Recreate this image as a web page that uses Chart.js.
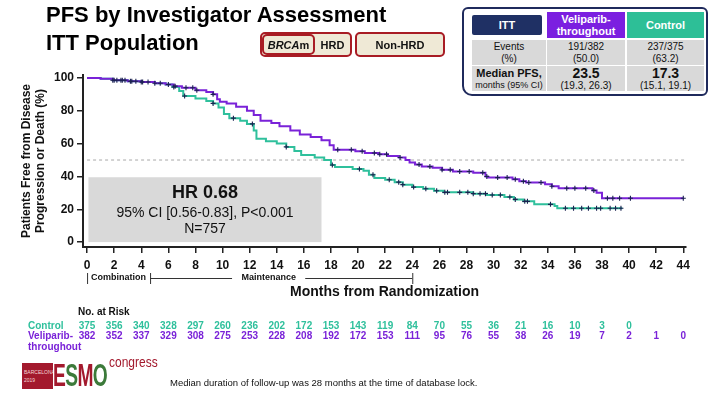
<!DOCTYPE html>
<html>
<head>
<meta charset="utf-8">
<script src="https://cdn.jsdelivr.net/npm/chart.js@4.4.0/dist/chart.umd.min.js"></script>
<style>
  html, body { margin: 0; padding: 0; background: #fff; }
  body { width: 716px; height: 394px; position: relative; overflow: hidden;
         font-family: "Liberation Sans", Arial, sans-serif; color: #000; }
  .abs { position: absolute; box-sizing: border-box; }
  .cell { position: absolute; box-sizing: border-box; display: flex; flex-direction: column;
          align-items: center; justify-content: center; text-align: center; }
  #title { left: 46px; top: 1px; font-weight: bold; font-size: 22px; line-height: 28px; white-space: nowrap; }
  .tag { border: 2px solid #a81c24; border-radius: 5px; background: #efe9d6; }
  .tagtxt { font-weight: bold; font-size: 11px; color: #111; }
  #tbl { left: 462px; top: 7px; width: 246px; height: 89px; border: 2.5px solid #1f2a5c;
         border-radius: 6px 6px 6px 10px; background: #fff; }
  .g { background: #d9d9d9; color: #111; }
  #chart { position: absolute; left: 0; top: 0; }
  #logo .bx { left: 22px; top: 363px; width: 31px; height: 26px; background: #a3192d; color: #f3d7d7;
              font-family: "Liberation Sans Narrow", "Liberation Sans", Arial; font-size: 5px; line-height: 8px;
              padding: 5px 0 0 2px; overflow: hidden; white-space: nowrap; }
</style>
</head>
<body>
<canvas id="chart" width="716" height="394"></canvas>

<div id="title" class="abs">PFS by Investigator Assessment<br>ITT Population</div>

<div class="abs tag" style="left:260px;top:32px;width:92px;height:25px;"></div>
<div class="cell tag" style="left:262px;top:34px;width:53px;height:21px;"><span class="tagtxt"><i>BRCA</i>m</span></div>
<div class="cell" style="left:315px;top:34px;width:35px;height:21px;"><span class="tagtxt">HRD</span></div>
<div class="cell tag" style="left:355px;top:32px;width:90px;height:25px;"><span class="tagtxt">Non-HRD</span></div>

<div id="tbl" class="abs"></div>
<div class="cell" style="left:472px;top:15px;width:70px;height:20px;background:#1f3064;color:#fff;font-weight:bold;font-size:11px;border-radius:2px;">ITT</div>
<div class="cell" style="left:547px;top:12px;width:78px;height:26px;background:#7b1fe0;color:#fff;font-weight:bold;font-size:11px;line-height:12px;">Veliparib-<br>throughout</div>
<div class="cell" style="left:627px;top:12px;width:77px;height:26px;background:#2dbf97;color:#fff;font-weight:bold;font-size:11px;">Control</div>

<div class="cell g" style="left:472px;top:40px;width:74px;height:25px;font-size:10px;line-height:12px;">Events<br>(%)</div>
<div class="cell g" style="left:547px;top:40px;width:78px;height:25px;font-size:10px;line-height:12px;">191/382<br>(50.0)</div>
<div class="cell g" style="left:627px;top:40px;width:77px;height:25px;font-size:10px;line-height:12px;">237/375<br>(63.2)</div>

<div class="cell g" style="left:472px;top:66px;width:74px;height:25px;"><b style="font-size:11px;line-height:13px;">Median PFS,</b><span style="font-size:9px;line-height:11px;">months (95% CI)</span></div>
<div class="cell g" style="left:547px;top:66px;width:78px;height:25px;"><b style="font-size:14px;line-height:14px;">23.5</b><span style="font-size:10px;line-height:11px;">(19.3, 26.3)</span></div>
<div class="cell g" style="left:627px;top:66px;width:77px;height:25px;"><b style="font-size:14px;line-height:14px;">17.3</b><span style="font-size:10px;line-height:11px;">(15.1, 19.1)</span></div>

<div id="logo">
  <div class="abs bx">BARCELONA<br>2019</div>
  <div class="abs" style="left:53px;top:360px;height:30px;font-family:'Liberation Sans Narrow','Liberation Sans',Arial;font-weight:bold;font-size:31px;line-height:31px;letter-spacing:-1px;transform:scaleX(0.62);transform-origin:left;">
    <span style="color:#a3192d;">E</span><span style="color:#3c7a3a;">S</span><span style="color:#a3192d;">M</span><span style="color:#3c7a3a;">O</span>
  </div>
  <div class="abs" style="left:109px;top:354px;font-family:'Liberation Sans Narrow','Liberation Sans',Arial;font-size:15px;line-height:15px;color:#a3192d;transform:scaleX(0.8);transform-origin:left;">congress</div>
</div>
<div class="abs" style="left:170px;top:377px;font-size:9.5px;color:#111;white-space:nowrap;">Median duration of follow-up was 28 months at the time of database lock.</div>

<script>
// PFS Kaplan-Meier, ITT population — veliparib-throughout vs control.
var FONT = '"Liberation Sans", Arial, sans-serif';
var PURPLE = '#7a22d8';
var TEAL = '#2fc09c';
var MARK = '#1b2250';

var xTicks = [0, 2, 4, 6, 8, 10, 12, 14, 16, 18, 20, 22, 24, 26, 28, 30, 32, 34, 36, 38, 40, 42, 44];
var yTicks = [0, 20, 40, 60, 80, 100];

// KM step points (months, % free from progression)
var velT = [0, 1.0, 1.9, 3.0, 4.0, 5.0, 5.8, 6.4, 7.0, 8.0, 8.8, 9.3, 9.6, 9.8, 10.3, 11.0, 11.8, 12.3, 12.8, 13.6, 14.2, 15.0, 15.7, 16.5, 17.3, 17.9, 18.2, 19.8, 20.5, 21.5, 22.2, 23.0, 23.5, 23.8, 24.2, 24.7, 25.5, 26.2, 27.0, 28.5, 29.4, 29.6, 31.4, 31.9, 32.4, 33.8, 34.3, 34.8, 37.3, 37.6, 38.0, 44.0];
var velS = [100, 99.5, 98.6, 98.0, 97.5, 96.8, 96.0, 95.0, 94.0, 92.5, 91.5, 90.0, 87.0, 85.5, 84.5, 82.5, 80.0, 77.5, 74.0, 72.5, 70.5, 68.0, 65.5, 64.0, 62.0, 59.0, 56.3, 55.3, 54.3, 53.5, 52.5, 51.5, 50.0, 48.5, 47.2, 46.0, 45.3, 44.0, 43.0, 42.3, 40.0, 39.3, 38.3, 37.0, 36.3, 35.2, 34.0, 32.8, 31.5, 30.0, 26.7, 26.7];

var ctlT = [0, 1.0, 1.9, 3.0, 4.0, 5.0, 5.8, 6.3, 6.8, 7.1, 8.0, 8.8, 9.3, 9.7, 10.1, 10.5, 11.3, 11.8, 12.3, 12.5, 13.2, 14.0, 14.7, 15.3, 15.8, 16.8, 17.5, 18.0, 18.3, 19.6, 20.4, 20.8, 21.2, 22.0, 22.7, 23.3, 24.0, 24.8, 25.6, 26.3, 28.5, 29.5, 30.8, 31.5, 32.2, 33.0, 34.5, 34.7, 39.5];
var ctlS = [100, 99.5, 98.6, 98.0, 97.5, 96.8, 96.0, 94.5, 92.0, 89.0, 87.5, 86.0, 84.5, 82.0, 78.0, 75.5, 74.0, 72.0, 68.0, 63.0, 61.5, 60.0, 58.0, 55.5, 53.0, 51.5, 50.0, 47.0, 45.8, 44.5, 43.5, 41.0, 39.0, 38.0, 36.5, 35.0, 33.5, 32.5, 31.3, 30.3, 29.5, 28.7, 27.5, 26.0, 24.8, 23.0, 22.0, 20.6, 20.6];

// censoring times (months)
var velCens = [1.9, 2.2, 2.5, 2.8, 3.2, 3.6, 4.1, 4.5, 5.0, 6.0, 6.5, 7.3, 7.8, 8.1, 9.3, 18.5, 19.5, 20.3, 21.2, 21.6, 22.1, 23.1, 24.5, 25.3, 26.2, 26.8, 27.5, 28.2, 29.2, 29.5, 30.3, 31.0, 31.6, 32.2, 32.6, 33.5, 34.3, 35.4, 36.0, 36.8, 37.4, 38.4, 38.8, 39.3, 40.1, 44.0];
var ctlCens = [2.0, 2.6, 3.3, 4.0, 5.4, 6.4, 7.2, 9.3, 10.8, 12.2, 14.7, 18.1, 20.1, 21.1, 22.3, 23.0, 23.3, 24.1, 25.0, 25.8, 26.4, 26.6, 27.5, 28.1, 28.5, 29.0, 29.4, 29.9, 30.5, 31.2, 31.6, 32.3, 32.5, 34.2, 35.3, 35.9, 36.5, 37.0, 37.6, 37.9, 38.6, 39.0, 39.4];

// number at risk
var riskT = [0, 2, 4, 6, 8, 10, 12, 14, 16, 18, 20, 22, 24, 26, 28, 30, 32, 34, 36, 38, 40, 42, 44];
var ctlRisk = [375, 356, 340, 328, 297, 260, 236, 202, 172, 153, 143, 119, 84, 70, 55, 36, 21, 16, 10, 3, 0];
var velRisk = [382, 352, 337, 329, 308, 275, 253, 228, 208, 192, 172, 153, 111, 95, 76, 55, 38, 26, 19, 7, 2, 1, 0];

var medianLine = 50;
var hrBox = { x0: 0.1, x1: 17.3, y0: 0, y1: 39.5 };

function pts(t, s) { return t.map(function (v, i) { return { x: v, y: s[i] }; }); }
function stepAt(t, s, at) {
  var v = s[0];
  for (var i = 0; i < t.length; i++) { if (t[i] <= at) v = s[i]; }
  return v;
}
function marks(c, t, s) { return c.map(function (v) { return { x: v, y: stepAt(t, s, v) }; }); }

var extras = {
  id: 'extras',
  beforeDatasetsDraw: function (chart) {
    var x = chart.scales.x, y = chart.scales.y, ctx = chart.ctx;
    var l = x.getPixelForValue(hrBox.x0), r = x.getPixelForValue(hrBox.x1);
    var t = y.getPixelForValue(hrBox.y1), b = y.getPixelForValue(hrBox.y0);
    ctx.save();
    ctx.fillStyle = '#d9d9d9';
    ctx.fillRect(l, t, r - l, b - t);
    var cx = (l + r) / 2;
    ctx.fillStyle = '#111';
    ctx.textAlign = 'center';
    ctx.textBaseline = 'middle';
    ctx.font = 'bold 18px ' + FONT;
    ctx.fillText('HR 0.68', cx, t + 16);
    ctx.font = '14px ' + FONT;
    ctx.fillText('95% CI [0.56-0.83], P<0.001', cx, t + 36);
    ctx.fillText('N=757', cx, t + 52);
    ctx.restore();
  },
  afterDraw: function (chart) {
    var x = chart.scales.x, ctx = chart.ctx;
    ctx.save();
    // treatment phase bar
    var py = 278;
    var p0 = x.getPixelForValue(0), p1 = x.getPixelForValue(4.65), p2 = x.getPixelForValue(24);
    ctx.strokeStyle = '#333';
    ctx.lineWidth = 1;
    ctx.beginPath();
    [p0, p1, p2].forEach(function (p) { ctx.moveTo(p + 0.5, py - 5); ctx.lineTo(p + 0.5, py + 6); });
    ctx.moveTo(p1, py + 0.5); ctx.lineTo(x.getPixelForValue(10.7), py + 0.5);
    ctx.moveTo(x.getPixelForValue(16.1), py + 0.5); ctx.lineTo(p2, py + 0.5);
    ctx.stroke();
    ctx.fillStyle = '#111';
    ctx.font = 'bold 9px ' + FONT;
    ctx.textAlign = 'center';
    ctx.textBaseline = 'middle';
    ctx.fillText('Combination', (p0 + p1) / 2, py);
    ctx.fillText('Maintenance', x.getPixelForValue(13.4), py);

    // number at risk table
    ctx.font = 'bold 10px ' + FONT;
    ctx.textAlign = 'left';
    ctx.fillText('No. at Risk', 78, 312);
    ctx.fillStyle = TEAL;
    ctx.fillText('Control', 28, 326);
    ctx.fillStyle = PURPLE;
    ctx.fillText('Veliparib-', 28, 336);
    ctx.fillText('throughout', 28, 347);
    ctx.textAlign = 'center';
    ctx.fillStyle = TEAL;
    ctlRisk.forEach(function (n, i) { ctx.fillText(String(n), x.getPixelForValue(riskT[i]), 326); });
    ctx.fillStyle = PURPLE;
    velRisk.forEach(function (n, i) { ctx.fillText(String(n), x.getPixelForValue(riskT[i]), 336); });
    ctx.restore();
  }
};

var tickFont = { family: FONT, size: 12, weight: 'bold' };

new Chart(document.getElementById('chart'), {
  type: 'line',
  data: {
    datasets: [
      { label: 'Veliparib censored', data: marks(velCens, velT, velS), showLine: false,
        pointStyle: 'cross', pointRadius: 2.5, borderColor: MARK, borderWidth: 1.1, order: 0 },
      { label: 'Control censored', data: marks(ctlCens, ctlT, ctlS), showLine: false,
        pointStyle: 'cross', pointRadius: 2.5, borderColor: MARK, borderWidth: 1.1, order: 1 },
      { label: 'Veliparib-throughout', data: pts(velT, velS), stepped: 'before',
        borderColor: PURPLE, borderWidth: 2, pointRadius: 0, fill: false, order: 2 },
      { label: 'Control', data: pts(ctlT, ctlS), stepped: 'before',
        borderColor: TEAL, borderWidth: 2, pointRadius: 0, fill: false, order: 3 },
      { label: 'Median', data: [{ x: 0, y: medianLine }, { x: 44.2, y: medianLine }],
        borderColor: '#a8a8a8', borderWidth: 1, borderDash: [3, 3], pointRadius: 0, order: 4 }
    ]
  },
  options: {
    responsive: false,
    animation: false,
    devicePixelRatio: 1,
    layout: { padding: { left: 16, top: 75, right: 30, bottom: 90 } },
    plugins: { legend: { display: false }, tooltip: { enabled: false } },
    scales: {
      x: {
        type: 'linear', min: -0.3, max: 44.2,
        afterBuildTicks: function (s) { s.ticks = xTicks.map(function (v) { return { value: v }; }); },
        afterFit: function (s) { s.height = 57; },
        border: { color: '#222', width: 2 },
        grid: { drawOnChartArea: false, drawTicks: true, tickLength: 6, color: '#222', lineWidth: 1.5 },
        ticks: { font: tickFont, color: '#111', padding: 5, maxRotation: 0, autoSkip: false },
        title: { display: true, text: 'Months from Randomization', color: '#111',
                 font: { family: FONT, size: 14, weight: 'bold' }, padding: { top: 0, bottom: 3 } }
      },
      y: {
        type: 'linear', min: -3, max: 101.8,
        afterBuildTicks: function (s) { s.ticks = yTicks.map(function (v) { return { value: v }; }); },
        afterFit: function (s) { s.width = 67; },
        border: { color: '#222', width: 2 },
        grid: { drawOnChartArea: false, drawTicks: true, tickLength: 6, color: '#222', lineWidth: 1.5 },
        ticks: { font: tickFont, color: '#111', padding: 3 },
        title: { display: true, text: ['Patients Free from Disease', 'Progression or Death (%)'], color: '#111',
                 font: { family: FONT, size: 12, weight: 'bold' }, padding: { top: 3, bottom: 0 } }
      }
    }
  },
  plugins: [extras]
});
</script>
</body>
</html>
